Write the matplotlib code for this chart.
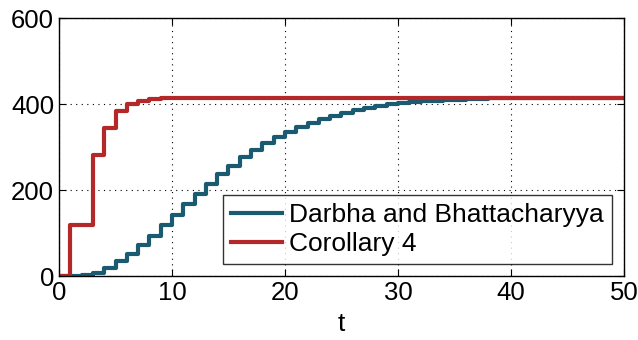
import matplotlib
matplotlib.use("Agg")
import matplotlib.pyplot as plt
import numpy as np

plt.rcParams['font.family'] = ['Liberation Sans', 'DejaVu Sans']

t = list(range(0, 51))
darbha = [0, 0, 2, 7, 18, 34, 52, 72, 94, 118,
          143, 168, 192, 215, 237, 257, 276, 293, 309, 323,
          335, 346, 356, 365, 372, 379, 385, 390, 395, 399,
          402, 404, 406, 408, 409.5, 410.5, 411.5, 412, 413, 413.5,
          414, 414.3, 414.6, 414.8, 415, 415, 415, 415, 415, 415, 415]
corollary = [0, 119, 119, 282, 344, 383, 401, 408, 412, 414,
             415, 415, 415, 415, 415, 415, 415, 415, 415, 415,
             415, 415, 415, 415, 415, 415, 415, 415, 415, 415,
             415, 415, 415, 415, 415, 415, 415, 415, 415, 415,
             415, 415, 415, 415, 415, 415, 415, 415, 415, 415, 415]
labels = ["Darbha and Bhattacharyya", "Corollary 4"]
xticks = [0, 10, 20, 30, 40, 50]
yticks = [0, 200, 400, 600]

fig = plt.figure(figsize=(6.38, 3.40), dpi=100)
ax = fig.add_axes([0.0925, 0.188, 0.8855, 0.759])

ax.step(t, darbha, where='post', color='#1b5b71', lw=3.0, label=labels[0])
ax.step(t, corollary, where='post', color='#b3292a', lw=3.0, label=labels[1])

ax.set_xlim(0, 50)
ax.set_ylim(0, 600)
ax.set_xticks(xticks)
ax.set_yticks(yticks)
ax.tick_params(direction='in', top=True, right=True, labelsize=18.5, length=5, width=0.8)
ax.grid(True, linestyle=(0, (1, 4)), color='black', linewidth=0.8)
for s in ax.spines.values():
    s.set_linewidth(1.0)
ax.set_xlabel('t', fontsize=19, labelpad=5)

leg = ax.legend(loc='lower right', fontsize=19, frameon=True, fancybox=False,
                edgecolor='black', borderpad=0.3, handlelength=1.9,
                handletextpad=0.3, labelspacing=0.2, borderaxespad=0.45)
leg.get_frame().set_linewidth(1.0)

fig.savefig('out.png', dpi=100)
